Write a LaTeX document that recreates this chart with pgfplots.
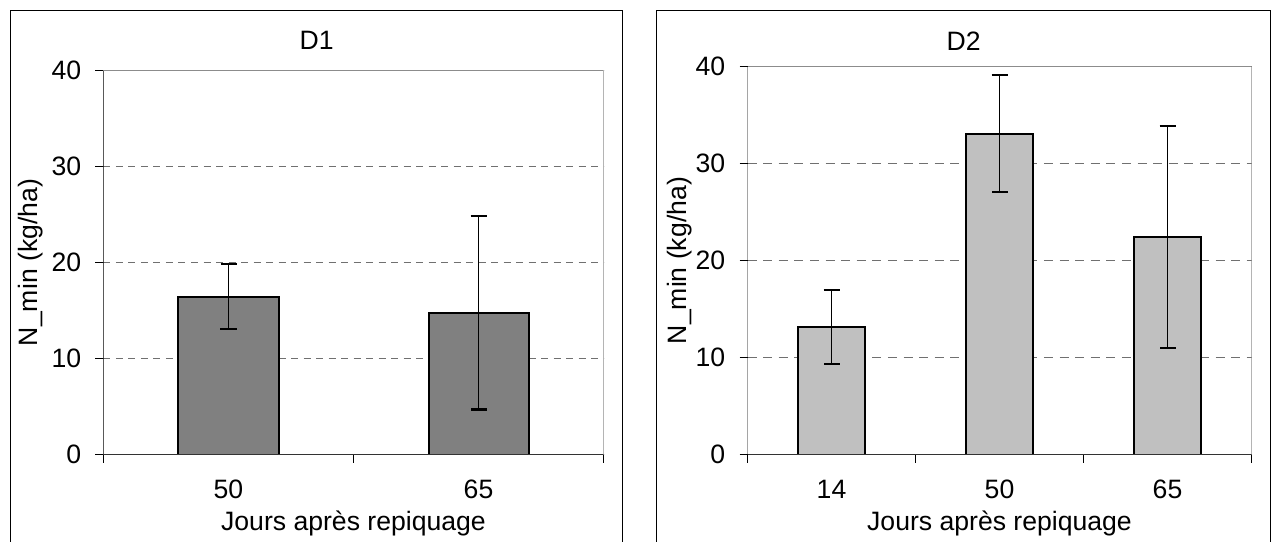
\documentclass[border=0pt]{standalone}
\usepackage{pgfplots}
\pgfplotsset{compat=1.18}
\usepackage{fontspec}
\setmainfont{Liberation Sans}
\definecolor{barA}{HTML}{808080}
\definecolor{barB}{HTML}{C0C0C0}
\definecolor{gridc}{HTML}{707070}
\definecolor{boxc}{HTML}{8C8C8C}

\pgfplotstableread{
x y e
0 16.45 3.38
1 14.78 10.10
}\dataA
\pgfplotstableread{
x y e
0 13.15 3.85
1 33.11 6.04
2 22.45 11.45
}\dataB

\pgfplotsset{
  panel/.style={
    scale only axis,
    /pgf/number format/assume math mode=true,
    ymin=0, ymax=40,
    ytick={0,10,20,30,40},
    tick pos=left,
    tick align=outside,
    major tick length=4pt,
    tick style={black, line width=0.6pt},
    axis line style={draw=none},
    ymajorgrids,
    xticklabels={},
    yticklabel style={anchor=east, inner sep=0pt, xshift=-7pt},
    ylabel={N\_min (kg/ha)},
    xlabel={Jours après repiquage},
    xlabel style={anchor=center},
    ylabel style={anchor=center},
    title style={anchor=center, yshift=-6pt},
  },
}

\begin{document}
\fontsize{13.3pt}{16pt}\selectfont
\begin{tikzpicture}
\useasboundingbox (0,0) rectangle (639.5pt,270.5pt);
% outer boxes
\draw[black, line width=0.7pt] (5.35pt,-2pt) -- (5.35pt,265.15pt) -- (311.35pt,265.15pt) -- (311.35pt,-2pt);
\draw[black, line width=0.7pt] (328.35pt,-2pt) -- (328.35pt,265.15pt) -- (635.35pt,265.15pt) -- (635.35pt,-2pt);

\begin{axis}[panel,
  at={(51.75pt,43.25pt)}, anchor=south west,
  width=250pt, height=192pt,
  xmin=-0.5, xmax=1.5,
  xtick={-0.5,0.5,1.5},
  extra x ticks={0,1},
  extra x tick labels={50,65},
  extra x tick style={major tick length=0pt, grid=none,
     xticklabel style={anchor=center, yshift=-17.6pt}},
  grid style={gridc, line width=0.5pt, dash pattern=on 3.5pt off 2.75pt},
  title={D1},
  title style={at={(axis description cs:0.4264,1.0773)}},
  xlabel style={at={(axis description cs:0.5,-0.18)}},
  ylabel style={at={(axis description cs:-0.145,0.5)}},
]
\addplot[ybar, bar width=0.4, fill=barA, draw=black, line width=1pt,
  error bars/.cd, y dir=both, y explicit,
  error bar style={black, line width=0.9pt},
  error mark options={rotate=90, black, mark size=4pt, line width=1.1pt}]
  table[x=x, y=y, y error=e] {\dataA};
\draw[boxc, line width=0.6pt] (rel axis cs:0,1) -- (rel axis cs:1,1) -- (rel axis cs:1,0);
\draw[black, line width=0.7pt] (rel axis cs:0,0) -- (rel axis cs:0,1);
\draw[black!80, line width=0.9pt] (rel axis cs:0,0) -- (rel axis cs:1,0);
\end{axis}

\begin{axis}[panel,
  at={(373.75pt,43.25pt)}, anchor=south west,
  width=252pt, height=193.9pt,
  xmin=-0.5, xmax=2.5,
  xtick={-0.5,0.5,1.5,2.5},
  extra x ticks={0,1,2},
  extra x tick labels={14,50,65},
  extra x tick style={major tick length=0pt, grid=none,
     xticklabel style={anchor=center, yshift=-17.6pt}},
  grid style={gridc, line width=0.7pt, dash pattern=on 4.5pt off 3.3pt},
  title={D2},
  title style={at={(axis description cs:0.4288,1.0662)}},
  xlabel style={at={(axis description cs:0.5,-0.178)}},
  ylabel style={at={(axis description cs:-0.135,0.5)}},
]
\addplot[ybar, bar width=0.4, fill=barB, draw=black, line width=1pt,
  error bars/.cd, y dir=both, y explicit,
  error bar style={black, line width=0.9pt},
  error mark options={rotate=90, black, mark size=4pt, line width=1.1pt}]
  table[x=x, y=y, y error=e] {\dataB};
\draw[boxc, line width=0.6pt] (rel axis cs:0,1) -- (rel axis cs:1,1) -- (rel axis cs:1,0);
\draw[black, line width=0.7pt] (rel axis cs:0,0) -- (rel axis cs:0,1);
\draw[black!80, line width=0.9pt] (rel axis cs:0,0) -- (rel axis cs:1,0);
\end{axis}
\end{tikzpicture}
\end{document}
